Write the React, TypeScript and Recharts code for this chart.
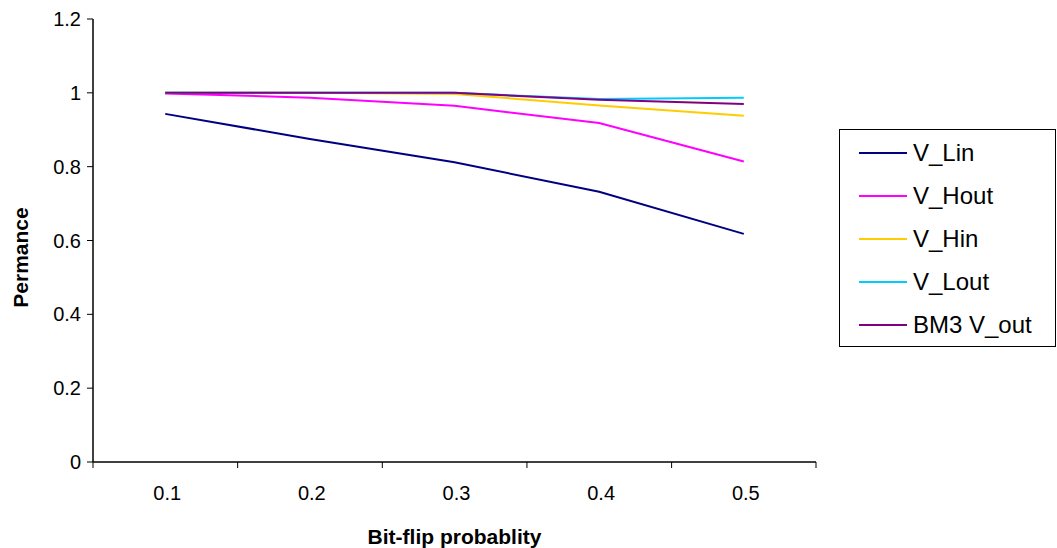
import React from 'react';
import { LineChart, Line, XAxis, YAxis, Legend, Label } from 'recharts';

// Bit-flip probability categories
const categories = ['0.1', '0.2', '0.3', '0.4', '0.5'];

// Series values
const vLin = [0.943, 0.875, 0.812, 0.732, 0.618];
const vHout = [0.998, 0.987, 0.965, 0.918, 0.814];
const vHin = [1.0, 1.0, 0.997, 0.966, 0.938];
const vLout = [1.0, 1.0, 1.0, 0.983, 0.987];
const bm3 = [1.0, 1.0, 1.0, 0.981, 0.97];

const yTicks = [0, 0.2, 0.4, 0.6, 0.8, 1, 1.2];

const SERIES = [
  { key: 'V_Lin', values: vLin, color: '#000080' },
  { key: 'V_Hout', values: vHout, color: '#FF00FF' },
  { key: 'V_Hin', values: vHin, color: '#FFCC00' },
  { key: 'V_Lout', values: vLout, color: '#00CCFF' },
  { key: 'BM3 V_out', values: bm3, color: '#800080' },
];

const data = categories.map((x, i) => {
  const row: { [key: string]: number | string } = { x };
  SERIES.forEach(s => {
    row[s.key] = s.values[i];
  });
  return row;
});

const FONT = '"Liberation Sans", Arial, sans-serif';
const BAND = 722 / categories.length;

// category label plus tick marks on the band edges
const XTick = (props: any) => {
  const { x, y, payload, index } = props;
  const left = x - BAND / 2;
  const right = x + BAND / 2;
  return (
    <g>
      <line x1={left} y1={y} x2={left} y2={y + 6} stroke="#000" strokeWidth={1} />
      {index === categories.length - 1 && (
        <line x1={right} y1={y} x2={right} y2={y + 6} stroke="#000" strokeWidth={1} />
      )}
      <text x={x + 2} y={y + 38} textAnchor="middle" fontSize={20} fill="#000" fontFamily={FONT}>
        {payload.value}
      </text>
    </g>
  );
};

// legend keeps the series order, not the sorted payload order
const LegendBox = () => (
  <div style={{ paddingLeft: 23 }}>
    <div style={{
      width: 217,
      height: 218,
      border: '1px solid #000',
      boxSizing: 'border-box',
      paddingTop: 1,
      fontFamily: FONT,
    }}>
      {SERIES.map(s => (
        <div key={s.key} style={{ display: 'flex', alignItems: 'center', height: 43 }}>
          <div style={{ width: 48, height: 2, background: s.color, marginLeft: 19, marginRight: 6 }} />
          <span style={{ fontSize: 24, color: '#000', lineHeight: '24px' }}>{s.key}</span>
        </div>
      ))}
    </div>
  </div>
);

export default function App() {
  return (
    <div style={{ position: 'absolute', left: 0, top: 0, background: '#fff' }}>
      <LineChart
        width={1057}
        height={548}
        data={data}
        margin={{ top: 19, right: 1, left: 0, bottom: 0 }}
      >
        <XAxis
          dataKey="x"
          height={86}
          padding={{ left: BAND / 2, right: BAND / 2 }}
          axisLine={{ stroke: '#000', strokeWidth: 1.5 }}
          tickLine={false}
          tickSize={0}
          tickMargin={0}
          interval={0}
          tick={<XTick />}
        >
          <Label
            value="Bit-flip probablity"
            position="insideBottom"
            offset={4}
            style={{ fontSize: 21, fontWeight: 'bold', fill: '#000', fontFamily: FONT }}
          />
        </XAxis>
        <XAxis
          xAxisId="top"
          dataKey="x"
          orientation="top"
          height={0}
          tick={false}
          tickLine={false}
          axisLine={{ stroke: '#808080', strokeWidth: 2 }}
        />
        <YAxis
          width={93}
          domain={[0, 1.2]}
          ticks={yTicks}
          interval={0}
          tickSize={6}
          tickMargin={6}
          axisLine={{ stroke: '#000', strokeWidth: 1.5 }}
          tickLine={{ stroke: '#000' }}
          tick={{ fontSize: 20, fill: '#000', fontFamily: FONT }}
        >
          <Label
            content={(p: any) => {
              const vb = p.viewBox || {};
              const cy = (vb.y || 0) + (vb.height || 0) / 2 + 17;
              return (
                <text
                  x={20}
                  y={cy}
                  transform={`rotate(-90, 20, ${cy})`}
                  textAnchor="middle"
                  dominantBaseline="central"
                  fontSize={21}
                  fontWeight="bold"
                  fill="#000"
                  fontFamily={FONT}
                >
                  Permance
                </text>
              );
            }}
          />
        </YAxis>
        <YAxis
          yAxisId="right"
          orientation="right"
          width={0}
          domain={[0, 1.2]}
          tick={false}
          tickLine={false}
          axisLine={{ stroke: '#808080', strokeWidth: 2 }}
        />
        <Legend
          layout="vertical"
          align="right"
          verticalAlign="middle"
          wrapperStyle={{ top: 129, right: 1 }}
          content={<LegendBox />}
        />
        {SERIES.map(s => (
          <Line
            key={s.key}
            type="linear"
            dataKey={s.key}
            name={s.key}
            stroke={s.color}
            strokeWidth={2}
            dot={false}
            activeDot={false}
            isAnimationActive={false}
          />
        ))}
      </LineChart>
    </div>
  );
}
